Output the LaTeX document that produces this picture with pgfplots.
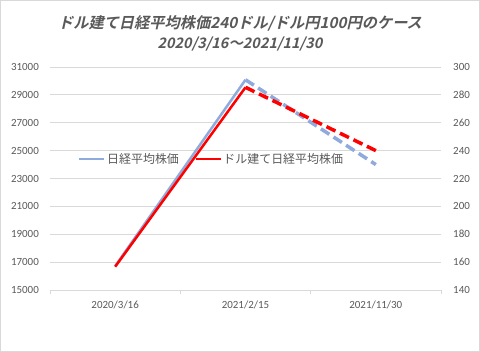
\documentclass[border=0pt]{standalone}
\usepackage{pgfplots}
\pgfplotsset{compat=1.18}
\usepackage{fontspec}
\setmainfont{Carlito}
\newfontfamily\jp{Noto Sans CJK JP}
\newfontfamily\jptitle{Noto Sans CJK JP Bold}[FakeSlant=0.22]
\definecolor{tgray}{HTML}{595959}
\definecolor{gridc}{HTML}{D9D9D9}
\definecolor{nblue}{HTML}{8FAADC}
\begin{document}
\begin{tikzpicture}
\draw[draw=gridc, line width=1bp] (0.5bp,0.5bp) rectangle (479.5bp,351.5bp);
\node[text=tgray, font=\jptitle\fontsize{15.3}{18}\selectfont, inner sep=0pt] at (240bp,329bp) {ドル建て日経平均株価240ドル/ドル円100円のケース};
\node[text=tgray, font=\jptitle\fontsize{14.5}{17}\selectfont, inner sep=0pt] at (240bp,308bp) {2020/3/16～2021/11/30};
\begin{axis}[
  at={(50bp,62bp)}, anchor=south west, scale only axis,
  width=391bp, height=223bp,
  xmin=-0.5, xmax=2.5, ymin=15000, ymax=31000,
  ytick={15000,17000,...,31000},
  ymajorgrids, grid style={draw=gridc, line width=0.75bp},
  axis x line*=bottom, axis y line*=left,
  x axis line style={draw=gridc, line width=0.75bp, -},
  y axis line style={draw=none},
  ytick style={draw=none},
  xtick={0,1,2}, xticklabels={2020/3/16,2021/2/15,2021/11/30},
  xtick style={draw=none},
  extra x ticks={-0.5,0.5,1.5,2.5}, extra x tick labels={},
  extra x tick style={xtick style={draw=gridc, line width=0.75bp}, major tick length=4bp, tick align=outside, xmajorgrids=false},
  scaled y ticks=false,
  /pgf/number format/assume math mode=true,
  /pgf/number format/fixed,
  /pgf/number format/set thousands separator={},
  ticklabel style={font=\fontsize{11}{13}\selectfont, text=tgray},
  yticklabel style={inner sep=0pt, anchor=east},
  yticklabel shift=11bp,
  xticklabel style={inner sep=0pt, anchor=north},
  xticklabel shift=11bp,
  legend style={at={(0.064,0.587)}, anchor=west, draw=none, fill=none,
    legend columns=2, font=\jp\fontsize{12}{14}\selectfont, text=tgray,
    /tikz/every even column/.append style={column sep=14bp},
    nodes={inner sep=1.5bp}},
  legend image code/.code={\draw[#1, line width=2.5bp] (0bp,0bp) -- (25bp,0bp);},
]
\addplot[nblue, line width=2.5bp] coordinates {(0,16720) (1,30084)};
\addlegendentry{日経平均株価}
\addplot[nblue, line width=3.5bp, dash pattern=on 10bp off 5bp, forget plot] coordinates {(1,30084) (2,24000)};
\addlegendimage{red, line width=2.5bp}
\addlegendentry{ドル建て日経平均株価}
\end{axis}
\begin{axis}[
  at={(50bp,62bp)}, anchor=south west, scale only axis,
  width=391bp, height=223bp,
  xmin=-0.5, xmax=2.5, ymin=140, ymax=300,
  ytick={140,160,...,300},
  axis x line=none, axis y line*=right,
  y axis line style={draw=none},
  ytick style={draw=none},
  /pgf/number format/assume math mode=true,
  ticklabel style={font=\fontsize{11}{13}\selectfont, text=tgray},
  yticklabel style={inner sep=0pt, anchor=west},
  yticklabel shift=12bp,
]
\addplot[red, line width=2.5bp] coordinates {(0,156.7) (1,285.4)};
\addplot[red, line width=3.5bp, dash pattern=on 10bp off 5bp] coordinates {(1,285.4) (2,240)};
\end{axis}
\end{tikzpicture}
\end{document}
